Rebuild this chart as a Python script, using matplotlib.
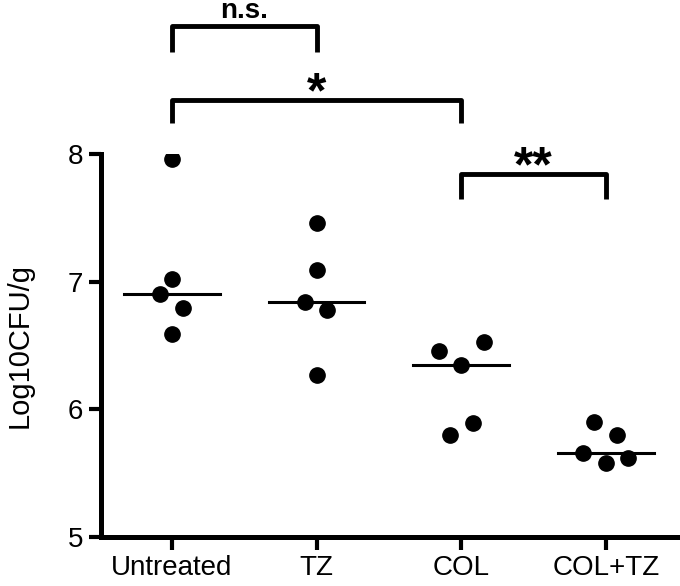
import numpy as np
import matplotlib.pyplot as plt

plt.rcParams.update({"font.family": ["Liberation Sans", "DejaVu Sans"], "font.size": 20})

# ── Data ──────────────────────────────────────────────────────────────────────
groups = ["Untreated", "TZ", "COL", "COL+TZ"]
untreated = [7.96, 7.02, 6.90, 6.79, 6.59]
tz        = [7.46, 7.09, 6.84, 6.78, 6.27]
col       = [6.46, 6.53, 6.35, 5.89, 5.80]
col_tz    = [5.90, 5.80, 5.66, 5.58, 5.62]
series = [untreated, tz, col, col_tz]

# horizontal scatter of the dots within each group (category units)
jitter = [[0, 0, -0.08, 0.08, 0],
          [0, 0, -0.08, 0.075, 0],
          [-0.156, 0.16, 0, 0.08, -0.08],
          [-0.083, 0.078, -0.16, 0, 0.156]]

# significance brackets: (left group, right group, label)
comparisons = [(0, 1, "n.s."), (0, 2, "*"), (2, 3, "**")]
bracket_y = [(8.80, 9.00), (8.24, 8.42), (7.65, 7.84)]

# ── Figure ────────────────────────────────────────────────────────────────────
fig = plt.figure(figsize=(6.8, 5.86), dpi=100)
ax = fig.add_axes([0.1485, 0.0836, 0.851, 0.6536])

for i, vals in enumerate(series):
    xs = i + np.array(jitter[i])
    ax.plot(xs, vals, "o", color="black", markersize=11, zorder=3)
    med = np.median(vals)
    ax.plot([i - 0.33, i + 0.33], [med, med], color="black", lw=2.2, zorder=2)

for (a, b, lab), (y0, y1) in zip(comparisons, bracket_y):
    ax.plot([a, a, b, b], [y0, y1, y1, y0], color="black", lw=3.5,
            solid_joinstyle="round", solid_capstyle="butt", clip_on=False)
    if lab.startswith("*"):
        # asterisks sit low in their box, so pull the baseline below the line
        ax.annotate(lab, ((a + b) / 2, y1), xytext=(0, -5),
                    textcoords="offset points", ha="center", va="baseline",
                    fontsize=36, fontweight="bold", annotation_clip=False)
    else:
        ax.annotate(lab, ((a + b) / 2, y1), xytext=(0, 6),
                    textcoords="offset points", ha="center", va="baseline",
                    fontsize=20, fontweight="bold", annotation_clip=False)

ax.set_xlim(-0.49, 3.51)
ax.set_ylim(5, 8)
ax.set_yticks([5, 6, 7, 8])
ax.set_xticks(range(len(groups)))
ax.set_xticklabels(groups)
ax.set_ylabel("Log10CFU/g", fontsize=21, labelpad=24)

ax.spines[["top", "right"]].set_visible(False)
for s in ["left", "bottom"]:
    ax.spines[s].set_linewidth(3.6)
ax.tick_params(axis="both", length=9, width=3, labelsize=20, pad=4)

fig.savefig("out.png", dpi=100, facecolor="white")
